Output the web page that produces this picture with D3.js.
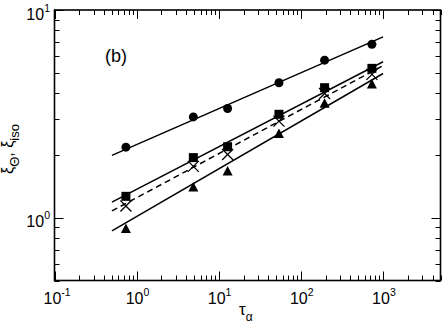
<!DOCTYPE html>
<html>
<head>
<meta charset="UTF-8">
<script src="https://d3js.org/d3.v7.min.js"></script>
<style>
  body { margin: 0; background: #fff; }
  svg { display: block; font-family: "Liberation Sans", Arial, Helvetica, sans-serif; }
</style>
</head>
<body>
<svg id="chart" width="443" height="325"></svg>
<script>
// --- data ---
const tau = [0.74, 4.9, 12.8, 54, 194, 731];
const xiCircle = [2.19, 3.06, 3.36, 4.47, 5.74, 6.84];
const xiSquare = [1.27, 1.95, 2.20, 3.15, 4.23, 5.24];
const xiCross = [1.14, 1.77, 2.02, 2.92, 3.97, 4.90];
const xiTriangle = [0.89, 1.41, 1.68, 2.55, 3.56, 4.41];

// power-law fits, endpoints
const fitTau = [0.5, 1000];
const fitCircle = [2.0, 7.43];
const fitSquare = [1.19, 5.64];
const fitCross = [1.08, 5.40];
const fitTriangle = [0.866, 4.95];

const xTickExp = [-1, 0, 1, 2, 3];
const yTickExp = [0, 1];

const svg = d3.select("#chart");
const pLeft = 54.5, pRight = 440.5, pTop = 10, pBottom = 280.5;

const x = d3.scaleLog().domain([0.1, 5000]).range([pLeft, pRight]);
const y = d3.scaleLog().domain([0.5, 10]).range([pBottom, pTop]);

// ticks (mirrored, inward)
function decadeTicks(scale) {
  const [a, b] = scale.domain();
  const out = [];
  for (let e = Math.floor(Math.log10(a)); e <= Math.ceil(Math.log10(b)); e++) {
    for (let m = 1; m <= 9; m++) {
      const v = m * Math.pow(10, e);
      if (v >= a * 0.999 && v <= b * 1.001) out.push({ v, major: m === 1 });
    }
  }
  return out;
}

const tickG = svg.append("g").attr("stroke", "#000").attr("stroke-width", 1);
decadeTicks(x).forEach(t => {
  const len = t.major ? 9 : 5;
  const px = Math.round(x(t.v)) + 0.5;
  tickG.append("line").attr("x1", px).attr("x2", px).attr("y1", pBottom).attr("y2", pBottom - len);
  tickG.append("line").attr("x1", px).attr("x2", px).attr("y1", pTop).attr("y2", pTop + len);
});
decadeTicks(y).forEach(t => {
  const len = t.major ? 9 : 5;
  const py = Math.round(y(t.v)) + 0.5;
  tickG.append("line").attr("y1", py).attr("y2", py).attr("x1", pLeft).attr("x2", pLeft + len);
  tickG.append("line").attr("y1", py).attr("y2", py).attr("x1", pRight).attr("x2", pRight - len);
});

// frame
svg.append("rect")
  .attr("x", pLeft).attr("y", pTop)
  .attr("width", pRight - pLeft).attr("height", pBottom - pTop)
  .attr("fill", "none").attr("stroke", "#000").attr("stroke-width", 1.6);

// tick labels
xTickExp.forEach(e => {
  const t = svg.append("text")
    .attr("x", x(Math.pow(10, e)) - 11).attr("y", 303.5)
    .attr("font-size", 16).attr("fill", "#000");
  t.append("tspan").text("10");
  t.append("tspan").attr("font-size", 10.5).attr("dy", -8).text(e);
});
yTickExp.forEach(e => {
  const t = svg.append("text")
    .attr("x", 50).attr("y", y(Math.pow(10, e)) + 9.5)
    .attr("text-anchor", "end")
    .attr("font-size", 16).attr("fill", "#000");
  t.append("tspan").text("10");
  t.append("tspan").attr("font-size", 10.5).attr("dy", -8).text(e);
});

// axis titles
const xt = svg.append("text").attr("x", 239).attr("y", 315).attr("font-size", 17);
xt.append("tspan").text("τ");
xt.append("tspan").attr("font-size", 12).attr("dy", 6).text("α");

const yt = svg.append("text")
  .attr("transform", "translate(13,149) rotate(-90)")
  .attr("text-anchor", "middle").attr("font-size", 16);
yt.append("tspan").text("ξ");
yt.append("tspan").attr("font-size", 13).attr("dy", 6).text("Θ");
yt.append("tspan").attr("dy", -6).text(", ξ");
yt.append("tspan").attr("font-size", 13).attr("dy", 6).text("iso");

// panel label
svg.append("text").attr("x", 105).attr("y", 62).attr("font-size", 18).text("(b)");

// fit lines
const line = d3.line().x(d => x(d[0])).y(d => y(d[1]));
[
  { ys: fitCircle, dash: null },
  { ys: fitSquare, dash: null },
  { ys: fitCross, dash: "6,4" },
  { ys: fitTriangle, dash: null }
].forEach(f => {
  svg.append("path")
    .datum(fitTau.map((t, i) => [t, f.ys[i]]))
    .attr("d", line)
    .attr("fill", "none").attr("stroke", "#000").attr("stroke-width", 1.5)
    .attr("stroke-dasharray", f.dash);
});

// markers
const pts = arr => tau.map((t, i) => [t, arr[i]]);
svg.append("g").selectAll("circle").data(pts(xiCircle)).join("circle")
  .attr("cx", d => x(d[0])).attr("cy", d => y(d[1])).attr("r", 4.5).attr("fill", "#000");
svg.append("g").selectAll("rect").data(pts(xiSquare)).join("rect")
  .attr("x", d => x(d[0]) - 4.5).attr("y", d => y(d[1]) - 4.5)
  .attr("width", 9).attr("height", 9).attr("fill", "#000");
svg.append("g").selectAll("path").data(pts(xiTriangle)).join("path")
  .attr("transform", d => `translate(${x(d[0])},${y(d[1])})`)
  .attr("d", "M0,-5L5,4.5L-5,4.5Z").attr("fill", "#000");
svg.append("g").selectAll("path").data(pts(xiCross)).join("path")
  .attr("transform", d => `translate(${x(d[0])},${y(d[1])})`)
  .attr("d", "M-5.5,-5.5L5.5,5.5M-5.5,5.5L5.5,-5.5")
  .attr("stroke", "#000").attr("stroke-width", 1.3).attr("fill", "none");
</script>
</body>
</html>
